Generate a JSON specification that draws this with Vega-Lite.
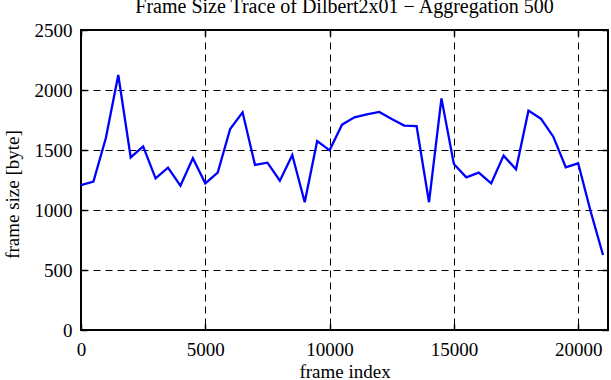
{
  "$schema": "https://vega.github.io/schema/vega-lite/v6.json",
  "width": 527,
  "height": 300,
  "autosize": "none",
  "padding": {"left": 81, "top": 30, "right": 3, "bottom": 50},
  "background": "white",
  "title": {
    "text": "Frame Size Trace of Dilbert2x01 − Aggregation 500",
    "font": "Liberation Serif",
    "fontSize": 20,
    "fontWeight": "normal",
    "color": "black",
    "baseline": "alphabetic",
    "offset": 4,
    "dy": 16,
    "anchor": "middle"
  },
  "config": {
    "view": {"stroke": "black", "strokeWidth": 2},
    "axis": {
      "labelFont": "Liberation Serif",
      "labelFontSize": 19,
      "labelColor": "black",
      "titleFont": "Liberation Serif",
      "titleFontSize": 19,
      "titleFontWeight": "normal",
      "titleColor": "black",
      "domain": false,
      "tickColor": "black",
      "tickWidth": 1.5,
      "tickSize": -6,
      "gridColor": "black",
      "gridOpacity": 1,
      "gridWidth": 1,
      "gridDash": [7, 5]
    }
  },
  "data": {
    "values": [
      {"frame": 0, "size": 1208},
      {"frame": 500, "size": 1236},
      {"frame": 1000, "size": 1600},
      {"frame": 1500, "size": 2125},
      {"frame": 2000, "size": 1438},
      {"frame": 2500, "size": 1530},
      {"frame": 3000, "size": 1264},
      {"frame": 3500, "size": 1353},
      {"frame": 4000, "size": 1203},
      {"frame": 4500, "size": 1431},
      {"frame": 5000, "size": 1222},
      {"frame": 5500, "size": 1311},
      {"frame": 6000, "size": 1675},
      {"frame": 6500, "size": 1814},
      {"frame": 7000, "size": 1375},
      {"frame": 7500, "size": 1394},
      {"frame": 8000, "size": 1244},
      {"frame": 8500, "size": 1458},
      {"frame": 9000, "size": 1065},
      {"frame": 9500, "size": 1575},
      {"frame": 10000, "size": 1497},
      {"frame": 10500, "size": 1711},
      {"frame": 11000, "size": 1772},
      {"frame": 11500, "size": 1797},
      {"frame": 12000, "size": 1817},
      {"frame": 12500, "size": 1758},
      {"frame": 13000, "size": 1703},
      {"frame": 13500, "size": 1700},
      {"frame": 14000, "size": 1065},
      {"frame": 14500, "size": 1930},
      {"frame": 15000, "size": 1383},
      {"frame": 15500, "size": 1272},
      {"frame": 16000, "size": 1311},
      {"frame": 16500, "size": 1222},
      {"frame": 17000, "size": 1453},
      {"frame": 17500, "size": 1339},
      {"frame": 18000, "size": 1828},
      {"frame": 18500, "size": 1761},
      {"frame": 19000, "size": 1611},
      {"frame": 19500, "size": 1356},
      {"frame": 20000, "size": 1389},
      {"frame": 20500, "size": 990},
      {"frame": 21000, "size": 625}
    ]
  },
  "layer": [
    {
      "mark": {"type": "line", "color": "#0000ff", "strokeWidth": 2.3, "strokeJoin": "miter"},
      "encoding": {
        "x": {
          "field": "frame",
          "type": "quantitative",
          "scale": {"domain": [0, 21200], "nice": false, "zero": false},
          "axis": {
            "orient": "bottom",
            "values": [0, 5000, 10000, 15000, 20000],
            "format": "d",
            "labelPadding": 31,
            "labelBaseline": "alphabetic",
            "labelFlush": false,
            "title": "frame index",
            "titleBaseline": "alphabetic",
            "titleY": 47
          }
        },
        "y": {
          "field": "size",
          "type": "quantitative",
          "scale": {"domain": [0, 2500], "nice": false},
          "axis": {
            "orient": "left",
            "values": [0, 500, 1000, 1500, 2000, 2500],
            "format": "d",
            "labelPadding": 15,
            "labelFlush": false,
            "title": "frame size [byte]",
            "titleBaseline": "alphabetic",
            "titleX": -63,
            "titleY": 164
          }
        }
      }
    },
    {
      "mark": {"type": "line", "strokeOpacity": 0},
      "encoding": {
        "x": {
          "field": "frame",
          "type": "quantitative",
          "axis": {"orient": "top", "values": [0, 5000, 10000, 15000, 20000], "labels": false, "grid": false, "title": null}
        },
        "y": {
          "field": "size",
          "type": "quantitative",
          "axis": {"orient": "right", "values": [0, 500, 1000, 1500, 2000, 2500], "labels": false, "grid": false, "title": null}
        }
      }
    }
  ],
  "resolve": {"axis": {"x": "independent", "y": "independent"}}
}
